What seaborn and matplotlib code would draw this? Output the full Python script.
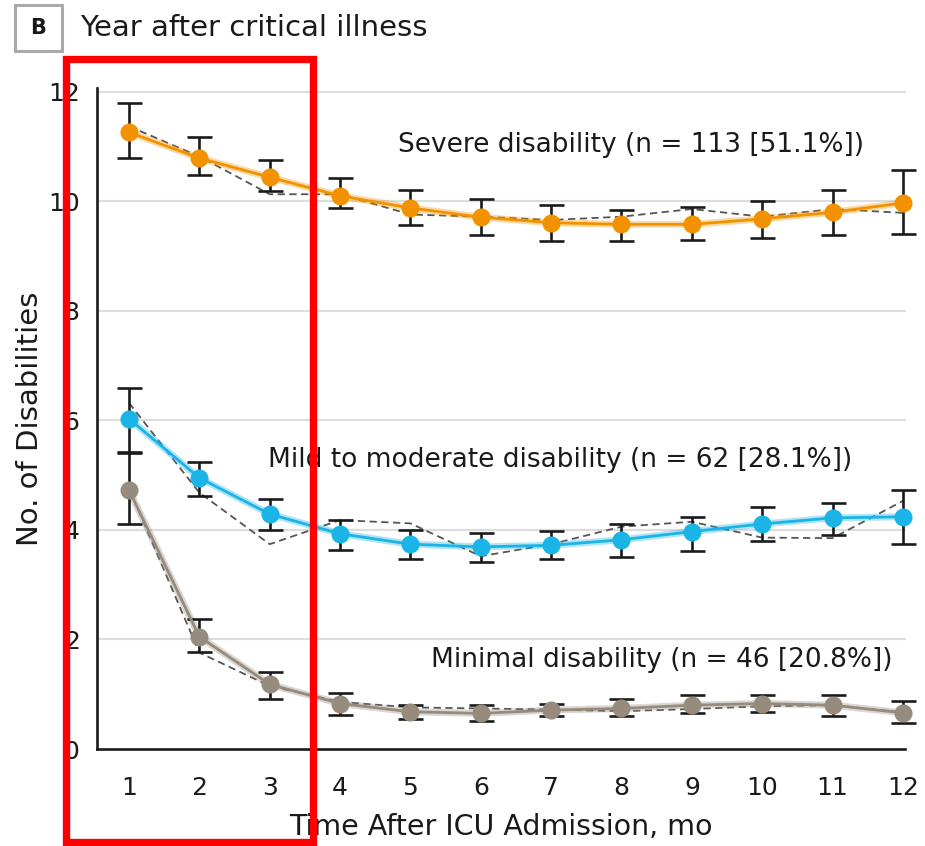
import numpy as np
import pandas as pd
import matplotlib
matplotlib.use("Agg")
import matplotlib.pyplot as plt
from matplotlib.patches import Rectangle
import seaborn as sns

# ---------------- data ----------------
months = [1, 2, 3, 4, 5, 6, 7, 8, 9, 10, 11, 12]

severe_fit = [11.26, 10.79, 10.44, 10.10, 9.88, 9.71, 9.61, 9.58, 9.58, 9.68, 9.80, 9.97]
severe_hi = [11.79, 11.17, 10.76, 10.43, 10.20, 10.05, 9.94, 9.84, 9.89, 10.00, 10.20, 10.57]
severe_lo = [10.80, 10.49, 10.19, 9.87, 9.57, 9.38, 9.28, 9.28, 9.29, 9.33, 9.38, 9.40]
severe_obs = [11.37, 10.82, 10.13, 10.13, 9.76, 9.72, 9.66, 9.72, 9.86, 9.72, 9.86, 9.79]

mild_fit = [6.03, 4.95, 4.29, 3.93, 3.74, 3.69, 3.72, 3.82, 3.97, 4.11, 4.22, 4.24]
mild_hi = [6.59, 5.24, 4.56, 4.19, 4.00, 3.95, 3.98, 4.11, 4.24, 4.41, 4.50, 4.73]
mild_lo = [5.43, 4.62, 4.00, 3.63, 3.47, 3.42, 3.47, 3.51, 3.62, 3.80, 3.90, 3.74]
mild_obs = [6.32, 4.68, 3.74, 4.18, 4.12, 3.52, 3.74, 4.06, 4.15, 3.86, 3.85, 4.53]

minimal_fit = [4.73, 2.05, 1.18, 0.83, 0.68, 0.65, 0.71, 0.74, 0.80, 0.83, 0.80, 0.66]
minimal_hi = [5.40, 2.38, 1.41, 1.03, 0.80, 0.80, 0.82, 0.91, 0.98, 0.98, 0.98, 0.88]
minimal_lo = [4.11, 1.78, 0.92, 0.62, 0.55, 0.51, 0.60, 0.61, 0.66, 0.68, 0.61, 0.47]
minimal_obs = [4.76, 1.76, 1.15, 0.86, 0.76, 0.74, 0.72, 0.69, 0.73, 0.78, 0.80, 0.67]

groups = ["Severe", "Mild", "Minimal"]
labels = ["Severe disability (n = 113 [51.1%])",
          "Mild to moderate disability (n = 62 [28.1%])",
          "Minimal disability (n = 46 [20.8%])"]
colors = {"Severe": "#F39200", "Mild": "#1BB4E6", "Minimal": "#968B7C"}

fit = {"Severe": severe_fit, "Mild": mild_fit, "Minimal": minimal_fit}
hi = {"Severe": severe_hi, "Mild": mild_hi, "Minimal": minimal_hi}
lo = {"Severe": severe_lo, "Mild": mild_lo, "Minimal": minimal_lo}
obs = {"Severe": severe_obs, "Mild": mild_obs, "Minimal": minimal_obs}

rows = []
for g in groups:
    for i, m in enumerate(months):
        rows.append({"month": m, "group": g, "fit": fit[g][i], "obs": obs[g][i],
                     "hi": hi[g][i], "lo": lo[g][i]})
df = pd.DataFrame(rows)

# ---------------- style ----------------
sns.set_theme(style="white")
plt.rcParams["font.family"] = ["DejaVu Sans"]

fig = plt.figure(figsize=(9.25, 8.46), dpi=100)
ax = fig.add_axes([97 / 925, 1 - 749 / 846, (905 - 97) / 925, (749 - 88) / 846])

# grid
for yv in [2, 4, 6, 8, 10, 12]:
    ax.axhline(yv, color="#DDDDDD", lw=1.6, zorder=0)

# observed dashed lines
sns.lineplot(data=df, x="month", y="obs", hue="group", palette={g: "#555555" for g in groups},
             ax=ax, legend=False, lw=1.3, zorder=2, estimator=None)
for line in ax.lines[-3:]:
    line.set_dashes([4, 2.5])

# light band behind fitted line
sns.lineplot(data=df, x="month", y="fit", hue="group", palette=colors, ax=ax,
             legend=False, lw=5, alpha=0.35, zorder=2, estimator=None)

# error bars
for g in groups:
    sub = df[df.group == g]
    ax.errorbar(sub["month"], sub["fit"],
                yerr=[sub["fit"] - sub["lo"], sub["hi"] - sub["fit"]],
                fmt="none", ecolor="#1A1A1A", elinewidth=1.9, capsize=9, capthick=1.9,
                zorder=3, clip_on=False)

# fitted lines with markers
sns.lineplot(data=df, x="month", y="fit", hue="group", palette=colors, ax=ax,
             legend=False, lw=2, marker="o", markersize=13, markeredgewidth=0,
             zorder=4, estimator=None)
for line in ax.lines:
    line.set_clip_on(False)

ax.set_xlim(0.545, 12.03)
ax.set_ylim(0, 12.07)
ax.set_xticks(months)
ax.set_yticks([0, 2, 4, 6, 8, 10, 12])
ax.tick_params(axis="both", direction="out", length=8.5, width=1.6, color="#1A1A1A",
               labelsize=18, labelcolor="#1A1A1A")
ax.tick_params(axis="x", pad=11)
ax.tick_params(axis="y", pad=4)
for s in ["top", "right"]:
    ax.spines[s].set_visible(False)
for s in ["left", "bottom"]:
    ax.spines[s].set_color("#1A1A1A")
    ax.spines[s].set_linewidth(1.9)
ax.set_xlabel("Time After ICU Admission, mo", fontsize=20.5, color="#1A1A1A", labelpad=9)
ax.set_ylabel("No. of Disabilities", fontsize=21, color="#1A1A1A", labelpad=3)

# group annotations
ax.text(8.14, 11.03, labels[0], fontsize=19, color="#1A1A1A", ha="center", va="center")
ax.text(7.13, 5.28, labels[1], fontsize=19, color="#1A1A1A", ha="center", va="center")
ax.text(8.57, 1.63, labels[2], fontsize=19, color="#1A1A1A", ha="center", va="center")

# panel header
fig.add_artist(Rectangle((15 / 925, 1 - 51 / 846), 47 / 925, 46 / 846, transform=fig.transFigure,
                         fill=False, edgecolor="#AAAAAA", lw=2.2))
fig.text(38.5 / 925, 1 - 28.5 / 846, "B", fontsize=15, fontweight="bold", color="#1A1A1A",
         ha="center", va="center")
fig.text(80 / 925, 1 - 28 / 846, "Year after critical illness", fontsize=21, color="#1A1A1A",
         ha="left", va="center")

# red highlight box
fig.add_artist(Rectangle((65.5 / 925, 1 - 842 / 846), (313 - 65.5) / 925, (842 - 59.5) / 846,
                         transform=fig.transFigure, fill=False, edgecolor="#FF0000", lw=5.3,
                         zorder=10))

fig.savefig("out.png", dpi=100)
